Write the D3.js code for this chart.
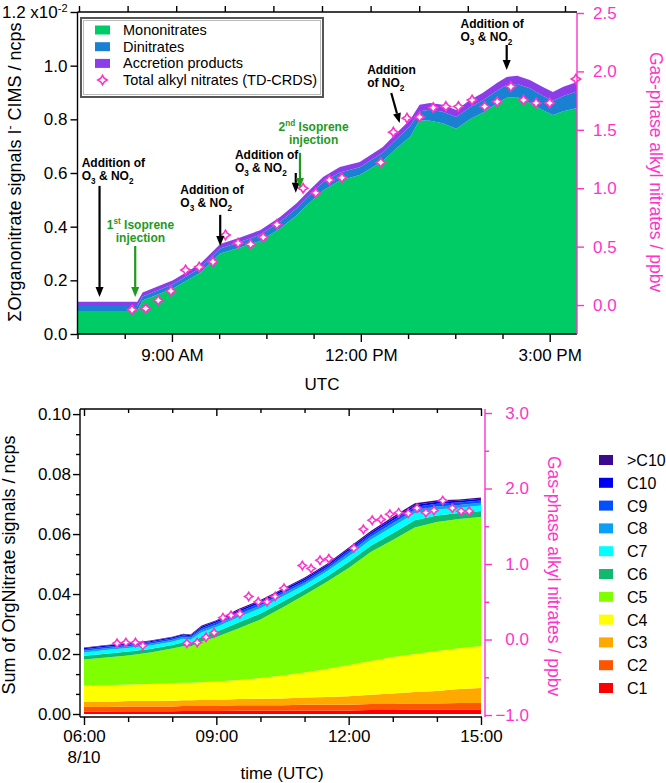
<!DOCTYPE html>
<html>
<head>
<meta charset="utf-8">
<script src="https://cdn.jsdelivr.net/npm/d3@7"></script>
<style>
body { margin: 0; background: #fff; }
</style>
</head>
<body>
<div id="chart"></div>
<script>
const [WIDTH, HEIGHT] = [666, 783]
const FONT = 'Arial, "Liberation Sans", sans-serif'
const MAGENTA = '#ff33cc'
const GREEN_TXT = '#1f9a1f'

// ---------- top panel data (signals in 1e-2 ncps) ----------
const topTimes = ['07:30','08:27','08:32','09:01','09:27','09:46','10:05','10:24','10:43','10:59','11:08',
    '11:24','11:40','11:59','12:21','12:34','12:47','12:56','13:06','13:18','13:31','13:44','13:56',
    '14:10','14:19','14:29','14:41','14:53','15:03','15:13','15:26']
const mononitrates = [0.086, 0.086, 0.125, 0.17, 0.228, 0.30, 0.322, 0.347, 0.393, 0.443, 0.478,
    0.535, 0.572, 0.593, 0.645, 0.692, 0.735, 0.797, 0.795, 0.785, 0.765, 0.80, 0.825,
    0.86, 0.88, 0.883, 0.861, 0.835, 0.816, 0.83, 0.842]
const dinitrates = [0.018, 0.018, 0.015, 0.015, 0.018, 0.019, 0.021, 0.023, 0.025, 0.027, 0.028,
    0.031, 0.030, 0.028, 0.031, 0.035, 0.040, 0.033, 0.041, 0.043, 0.044, 0.045, 0.045,
    0.047, 0.048, 0.049, 0.055, 0.054, 0.053, 0.057, 0.062]
const accretion = [0.016, 0.016, 0.015, 0.015, 0.016, 0.016, 0.017, 0.017, 0.018, 0.018, 0.019,
    0.019, 0.020, 0.020, 0.021, 0.022, 0.023, 0.024, 0.025, 0.026, 0.026, 0.027, 0.028,
    0.029, 0.030, 0.030, 0.031, 0.032, 0.033, 0.034, 0.035]
const topNames = ['Mononitrates', 'Dinitrates', 'Accretion products']
const topColors = ['#00cc66', '#1a80d2', '#8a3de8']

// TD-CRDS total alkyl nitrates, ppbv
const tdTimesTop = ['08:22','08:35','08:47','08:59','09:13','09:26','09:39','09:51','10:03','10:15','10:27',
    '10:40','11:05','11:17','11:30','11:42','12:19','12:31','12:44','12:56','13:09','13:21','13:33',
    '13:46','13:58','14:10','14:23','14:35','14:47','15:00','15:25']
const tdTop = [-0.04, -0.03, 0.04, 0.12, 0.30, 0.325, 0.37, 0.60, 0.53, 0.52, 0.58,
    0.69, 1.00, 0.96, 1.07, 1.09, 1.22, 1.48, 1.60, 1.61, 1.69, 1.70, 1.70,
    1.755, 1.70, 1.74, 1.87, 1.755, 1.73, 1.73, 1.935]

const topTickMajor = ['09:00', '12:00', '15:00']
const topTickLabels = ['9:00 AM', '12:00 PM', '3:00 PM']
const topTickMinor = ['07:30', '08:15', '09:45', '10:30', '11:15', '12:45', '13:30', '14:15']
const topTickMirror = ['07:30', '08:15', '09:00', '09:45', '10:30', '11:15', '12:00', '12:45', '13:30', '14:15', '15:00']
const topYTicks = [0, 0.2, 0.4, 0.6, 0.8, 1.0, 1.2]
const topRTicks = [0, 0.5, 1.0, 1.5, 2.0, 2.5]

// annotations: text anchor (time, value), arrow from/to (time, value)
const annotations = [
    { lines: ['Addition of', 'O{_3} & NO{_2}'], color: '#000', anchor: 'start', at: ['07:34', 0.622], from: ['07:51', 0.552], to: ['07:51', 0.138] },
    { lines: ['1{^st} Isoprene', 'injection'], color: GREEN_TXT, anchor: 'middle', at: ['08:30', 0.391], from: ['08:25', 0.328], to: ['08:25', 0.138] },
    { lines: ['Addition of', 'O{_3} & NO{_2}'], color: '#000', anchor: 'start', at: ['09:08', 0.522], from: ['09:46', 0.444], to: ['09:46', 0.328] },
    { lines: ['Addition of', 'O{_3} & NO{_2}'], color: '#000', anchor: 'start', at: ['10:00', 0.652], from: ['10:58', 0.60], to: ['10:58', 0.526] },
    { lines: ['2{^nd} Isoprene', 'injection'], color: GREEN_TXT, anchor: 'middle', at: ['11:15', 0.757], from: ['11:02', 0.675], to: ['11:02', 0.544] },
    { lines: ['Addition', 'of NO{_2}'], color: '#000', anchor: 'start', at: ['12:06', 0.969], from: ['12:29', 0.898], to: ['12:37', 0.786] },
    { lines: ['Addition of', 'O{_3} & NO{_2}'], color: '#000', anchor: 'start', at: ['13:35', 1.14], from: ['14:19', 1.077], to: ['14:19', 0.984] },
]

// ---------- bottom panel data (ncps) ----------
const btmTimes = ['06:00','06:30','07:00','07:30','08:00','08:15','08:25','08:40','09:00','09:30','10:00',
    '10:30','11:00','11:30','12:00','12:30','13:00','13:30','14:00','14:30','15:00']
const c1 = [0.0008, 0.0008, 0.0009, 0.0009, 0.0009, 0.0010, 0.0010, 0.0010, 0.0010, 0.0011, 0.0011,
    0.0011, 0.0012, 0.0012, 0.0012, 0.0013, 0.0013, 0.0014, 0.0014, 0.0015, 0.0015]
const c2 = [0.0015, 0.0015, 0.0016, 0.0016, 0.0016, 0.0017, 0.0017, 0.0017, 0.0017, 0.0018, 0.0018,
    0.0018, 0.0019, 0.0019, 0.0019, 0.0020, 0.0020, 0.0021, 0.0021, 0.0022, 0.0022]
const c3 = [0.0017, 0.0017, 0.0018, 0.0018, 0.0019, 0.0019, 0.0019, 0.0020, 0.0020, 0.0021, 0.0022,
    0.0023, 0.0024, 0.0026, 0.0028, 0.0031, 0.0035, 0.0038, 0.0042, 0.0046, 0.0050]
const c4 = [0.0055, 0.0056, 0.0055, 0.0057, 0.0059, 0.0058, 0.0058, 0.0059, 0.0061, 0.0063, 0.0069,
    0.0076, 0.0083, 0.0093, 0.0104, 0.0113, 0.0122, 0.0127, 0.0133, 0.0136, 0.0140]
const c5 = [0.0087, 0.0092, 0.0097, 0.0105, 0.0115, 0.0122, 0.0121, 0.0136, 0.0149, 0.0172, 0.0195,
    0.0227, 0.0259, 0.0290, 0.0324, 0.0363, 0.0390, 0.0422, 0.0430, 0.0431, 0.0430]
const c6 = [0.0012, 0.0013, 0.0013, 0.0012, 0.0012, 0.0013, 0.0012, 0.0016, 0.0017, 0.0020, 0.0020,
    0.0019, 0.0017, 0.0018, 0.0020, 0.0021, 0.0023, 0.0024, 0.0022, 0.0020, 0.0020]
const c7 = [0.0011, 0.0012, 0.0012, 0.0011, 0.0011, 0.0012, 0.0011, 0.0015, 0.0016, 0.0018, 0.0018,
    0.0018, 0.0016, 0.0017, 0.0019, 0.0020, 0.0022, 0.0023, 0.0020, 0.0018, 0.0018]
const c8 = [0.0006, 0.0006, 0.0006, 0.0006, 0.0006, 0.0006, 0.0006, 0.0007, 0.0008, 0.0009, 0.0009,
    0.0009, 0.0008, 0.0008, 0.0010, 0.0010, 0.0011, 0.0011, 0.0010, 0.0009, 0.0009]
const c9 = [0.0005, 0.0005, 0.0005, 0.0005, 0.0005, 0.0005, 0.0005, 0.0006, 0.0007, 0.0008, 0.0008,
    0.0007, 0.0007, 0.0007, 0.0008, 0.0008, 0.0009, 0.0010, 0.0009, 0.0008, 0.0008]
const c10 = [0.0004, 0.0004, 0.0004, 0.0004, 0.0004, 0.0004, 0.0004, 0.0005, 0.0005, 0.0006, 0.0006,
    0.0006, 0.0006, 0.0006, 0.0006, 0.0006, 0.0007, 0.0007, 0.0007, 0.0006, 0.0006]
const cOver10 = [0.0002, 0.0002, 0.0002, 0.0002, 0.0002, 0.0002, 0.0002, 0.0004, 0.0003, 0.0004, 0.0004,
    0.0004, 0.0004, 0.0004, 0.0005, 0.0005, 0.0006, 0.0006, 0.0005, 0.0004, 0.0004]
const carbonKeys = ['C1', 'C2', 'C3', 'C4', 'C5', 'C6', 'C7', 'C8', 'C9', 'C10', '>C10']
const carbonSeries = [c1, c2, c3, c4, c5, c6, c7, c8, c9, c10, cOver10]
const carbonColors = ['#ff0000', '#ff5500', '#ffa800', '#ffff00', '#80ff00', '#10b96e',
    '#00ffff', '#0aa0f5', '#0050ff', '#0000f0', '#3c0a8f']

const tdTimesBtm = ['06:45','06:57','07:10','07:20','08:20','08:34','08:46','08:57','09:09','09:20','09:32',
    '09:44','09:57','10:09','10:20','10:32','10:57','11:09','11:21','11:33','12:07','12:20','12:32',
    '12:44','12:56','13:08','13:21','13:33','13:45','13:56','14:08','14:21','14:33','14:44']
const tdBtm = [-0.05, -0.04, -0.04, -0.08, -0.05, -0.04, 0.03, 0.09, 0.29, 0.32, 0.34,
    0.57, 0.50, 0.50, 0.57, 0.68, 0.98, 0.94, 1.05, 1.07, 1.21, 1.46, 1.58,
    1.59, 1.66, 1.68, 1.67, 1.74, 1.68, 1.71, 1.84, 1.74, 1.70, 1.70]

const btmTickMajor = ['06:00', '09:00', '12:00', '15:00']
const btmTickMinor = ['07:00', '08:00', '10:00', '11:00', '13:00', '14:00']
const btmYTicks = [0, 0.02, 0.04, 0.06, 0.08, 0.10]
const btmYMinor = [0.0067, 0.0133, 0.0267, 0.0333, 0.0467, 0.0533, 0.0667, 0.0733, 0.0867, 0.0933]
const btmRTicks = [-1, 0, 1, 2, 3]
const btmRMinor = [-0.5, 0.5, 1.5, 2.5]

const parse = d3.timeParse('%H:%M')

const svg = d3.select('#chart').append('svg')
    .attr('width', WIDTH)
    .attr('height', HEIGHT)
    .attr('viewBox', [0, 0, WIDTH, HEIGHT])
    .attr('font-family', FONT)

// custom concave diamond marker (Igor style)
const starDiamond = {
    draw(ctx, size) {
        const r = Math.sqrt(size) / 2, k = r * 0.38
        ctx.moveTo(0, -r); ctx.lineTo(k, -k); ctx.lineTo(r, 0); ctx.lineTo(k, k)
        ctx.lineTo(0, r); ctx.lineTo(-k, k); ctx.lineTo(-r, 0); ctx.lineTo(-k, -k)
        ctx.closePath()
    }
}

// text with {_sub} and {^sup} pieces
function richText(sel, str, size) {
    const parts = str.split(/(\{[_^][^}]*\})/).filter(s => s)
    let shift = 0
    parts.forEach(p => {
        const m = p.match(/^\{([_^])(.*)\}$/)
        if (m) {
            const dy = m[1] === '_' ? size * 0.3 : -size * 0.42
            sel.append('tspan').attr('dy', dy - shift).attr('font-size', size * 0.68).text(m[2])
            shift = dy
        } else {
            sel.append('tspan').attr('dy', -shift).text(p)
            shift = 0
        }
    })
}

function styleAxis(a, color, size) {
    a.attr('font-family', FONT).attr('font-size', size)
    a.selectAll('.tick line').attr('stroke', color).attr('stroke-width', 1.4)
    a.selectAll('.tick text').attr('fill', color)
    a.select('.domain').remove()
}

function arrow(g, x1, y1, x2, y2, color) {
    const ang = Math.atan2(y2 - y1, x2 - x1)
    const hl = 10, hw = 4
    const bx = x2 - hl * Math.cos(ang), by = y2 - hl * Math.sin(ang)
    g.append('line').attr('x1', x1).attr('y1', y1).attr('x2', bx).attr('y2', by)
        .attr('stroke', color).attr('stroke-width', 2.2)
    const px = -Math.sin(ang) * hw, py = Math.cos(ang) * hw
    g.append('path')
        .attr('d', `M${x2},${y2}L${bx + px},${by + py}L${bx - px},${by - py}Z`)
        .attr('fill', color)
}

function drawTop() {
    const g = svg.append('g')
    const x = d3.scaleTime([parse('07:30'), parse('15:26')], [77.5, 577])
    const xMirror = d3.scaleTime([parse('07:30'), parse('15:00')], [79, 565])
    const y = d3.scaleLinear([0, 1.2], [334, 12])
    const yR = d3.scaleLinear([-0.248, 2.5], [334, 13])

    const rows = topTimes.map((t, i) => ({ t: parse(t), mono: mononitrates[i], di: dinitrates[i], acc: accretion[i] }))
    const series = d3.stack().keys(['mono', 'di', 'acc'])(rows)
    const area = d3.area().x(d => x(d.data.t)).y0(d => y(d[0])).y1(d => y(d[1]))
    g.append('g').selectAll('path').data(series).join('path')
        .attr('fill', (d, i) => topColors[i])
        .attr('d', area)

    // TD-CRDS markers
    g.append('g').selectAll('path').data(tdTimesTop.map((t, i) => ({ t: parse(t), v: tdTop[i] }))).join('path')
        .attr('transform', d => `translate(${x(d.t)},${yR(d.v)})`)
        .attr('d', d3.symbol(starDiamond, 90))
        .attr('fill', '#fff').attr('stroke', MAGENTA).attr('stroke-width', 1.6)

    // frame lines
    g.append('line').attr('x1', x.range()[0]).attr('x2', x.range()[1]).attr('y1', 334).attr('y2', 334).attr('stroke', '#000').attr('stroke-width', 1.4)
    g.append('line').attr('x1', x.range()[0]).attr('x2', x.range()[1]).attr('y1', 12).attr('y2', 12).attr('stroke', '#000').attr('stroke-width', 1.4)
    g.append('line').attr('x1', 77.5).attr('x2', 77.5).attr('y1', 12).attr('y2', 334).attr('stroke', '#000').attr('stroke-width', 1.4)
    g.append('line').attr('x1', 577).attr('x2', 577).attr('y1', 13).attr('y2', 334).attr('stroke', MAGENTA).attr('stroke-width', 1.4)

    // bottom time axis
    g.append('g').attr('transform', 'translate(0,334)')
        .call(d3.axisBottom(x).tickValues(topTickMajor.map(parse)).tickSize(8).tickPadding(7)
            .tickFormat((d, i) => topTickLabels[i]))
        .call(a => styleAxis(a, '#000', 17))
    g.append('g').attr('transform', 'translate(0,334)')
        .call(d3.axisBottom(x).tickValues(topTickMinor.map(parse)).tickSize(5).tickFormat(''))
        .call(a => styleAxis(a, '#000', 17))
    g.append('g').attr('transform', 'translate(0,12)')
        .call(d3.axisTop(xMirror).tickValues(topTickMirror.map(parse)).tickSize(6).tickFormat(''))
        .call(a => styleAxis(a, '#000', 17))
    g.append('text').attr('x', 322).attr('y', 390).attr('text-anchor', 'middle')
        .attr('font-size', 17).text('UTC')

    // left axis
    const yAx = g.append('g').attr('transform', 'translate(77.5,0)')
        .call(d3.axisLeft(y).tickValues(topYTicks).tickSize(7).tickPadding(3).tickFormat(d3.format('.1f')))
        .call(a => styleAxis(a, '#000', 17))
    yAx.selectAll('.tick text').filter(d => d === 1.2).each(function () {
        const t = d3.select(this).text('')
        t.append('tspan').text('1.2 x10')
        t.append('tspan').attr('dy', '-0.55em').attr('font-size', 11).text('-2')
    })
    const yl = g.append('text').attr('transform', 'translate(21,172) rotate(-90)')
        .attr('text-anchor', 'middle').attr('font-size', 18)
    yl.append('tspan').text('ΣOrganonitrate signals I')
    yl.append('tspan').attr('dy', -7).attr('font-size', 12).text('-')
    yl.append('tspan').attr('dy', 7).text(' CIMS / ncps')

    // right axis
    g.append('g').attr('transform', 'translate(577,0)')
        .call(d3.axisRight(yR).tickValues(topRTicks).tickSize(7).tickPadding(9).tickFormat(d3.format('.1f')))
        .call(a => styleAxis(a, MAGENTA, 17))
    g.append('text').attr('transform', 'translate(650,172) rotate(90)')
        .attr('text-anchor', 'middle').attr('font-size', 17.5).attr('fill', MAGENTA)
        .text('Gas-phase alkyl nitrates / ppbv')

    // annotations
    const ann = g.append('g').attr('font-weight', 'bold').attr('font-size', 12)
    annotations.forEach(a => {
        const tx = x(parse(a.at[0])), ty = y(a.at[1])
        a.lines.forEach((line, i) => {
            const t = ann.append('text').attr('x', tx).attr('y', ty + i * 13)
                .attr('text-anchor', a.anchor).attr('fill', a.color)
            richText(t, line, 12)
        })
        arrow(ann, x(parse(a.from[0])), y(a.from[1]), x(parse(a.to[0])), y(a.to[1]), a.color)
    })

    // legend
    const leg = g.append('g').attr('font-size', 14.5)
    leg.append('rect').attr('x', 81).attr('y', 18).attr('width', 242).attr('height', 79)
        .attr('fill', '#fff').attr('stroke', '#555').attr('stroke-width', 2)
    leg.append('rect').attr('x', 83.5).attr('y', 20.5).attr('width', 237).attr('height', 74)
        .attr('fill', 'none').attr('stroke', '#bbb').attr('stroke-width', 1)
    topNames.forEach((name, i) => {
        const cy = 30 + i * 16.7
        leg.append('rect').attr('x', 95).attr('y', cy - 4.5).attr('width', 15).attr('height', 9).attr('fill', topColors[i])
        leg.append('text').attr('x', 123).attr('y', cy + 5).text(name)
    })
    const cyT = 30 + 3 * 16.7
    leg.append('path').attr('transform', `translate(102.5,${cyT})`)
        .attr('d', d3.symbol(starDiamond, 90))
        .attr('fill', '#fff').attr('stroke', MAGENTA).attr('stroke-width', 1.6)
    leg.append('text').attr('x', 123).attr('y', cyT + 5).text('Total alkyl nitrates (TD-CRDS)')
}

function drawBottom() {
    const g = svg.append('g')
    const x = d3.scaleTime([parse('06:00'), parse('15:00')], [84, 481])
    const y = d3.scaleLinear([-0.001, 0.1017], [717, 409])
    const yR = d3.scaleLinear([-1.026, 3.053], [717, 409])

    const rows = btmTimes.map((t, i) => {
        const r = { t: parse(t) }
        carbonKeys.forEach((k, j) => { r[k] = carbonSeries[j][i] })
        return r
    })
    const series = d3.stack().keys(carbonKeys)(rows)
    const area = d3.area().x(d => x(d.data.t)).y0(d => y(d[0])).y1(d => y(d[1]))
    g.append('g').selectAll('path').data(series).join('path')
        .attr('fill', (d, i) => carbonColors[i])
        .attr('d', area)

    g.append('g').selectAll('path').data(tdTimesBtm.map((t, i) => ({ t: parse(t), v: tdBtm[i] }))).join('path')
        .attr('transform', d => `translate(${x(d.t)},${yR(d.v)})`)
        .attr('d', d3.symbol(starDiamond, 72))
        .attr('fill', '#fff').attr('stroke', MAGENTA).attr('stroke-width', 1.5)

    // frame
    g.append('line').attr('x1', 80).attr('x2', 482).attr('y1', 717).attr('y2', 717).attr('stroke', '#000').attr('stroke-width', 1.4)
    g.append('line').attr('x1', 80).attr('x2', 482).attr('y1', 409).attr('y2', 409).attr('stroke', '#000').attr('stroke-width', 1.4)
    g.append('line').attr('x1', 80).attr('x2', 80).attr('y1', 409).attr('y2', 717).attr('stroke', '#000').attr('stroke-width', 1.4)
    g.append('line').attr('x1', 485).attr('x2', 485).attr('y1', 409).attr('y2', 717).attr('stroke', MAGENTA).attr('stroke-width', 1.4)

    // time axis
    g.append('g').attr('transform', 'translate(0,717)')
        .call(d3.axisBottom(x).tickValues(btmTickMajor.map(parse)).tickSize(8).tickPadding(5)
            .tickFormat(d3.timeFormat('%H:%M')))
        .call(a => styleAxis(a, '#000', 17))
    g.append('g').attr('transform', 'translate(0,717)')
        .call(d3.axisBottom(x).tickValues(btmTickMinor.map(parse)).tickSize(5).tickFormat(''))
        .call(a => styleAxis(a, '#000', 17))
    g.append('g').attr('transform', 'translate(0,409)')
        .call(d3.axisBottom(x).tickValues(btmTickMajor.map(parse)).tickSize(7).tickFormat(''))
        .call(a => styleAxis(a, '#000', 17))
    g.append('g').attr('transform', 'translate(0,409)')
        .call(d3.axisBottom(x).tickValues(btmTickMinor.map(parse)).tickSize(4).tickFormat(''))
        .call(a => styleAxis(a, '#000', 17))
    g.append('text').attr('x', x(parse('06:00'))).attr('y', 763).attr('text-anchor', 'middle')
        .attr('font-size', 17).text('8/10')
    g.append('text').attr('x', 282).attr('y', 779).attr('text-anchor', 'middle')
        .attr('font-size', 17).text('time (UTC)')

    // left axis
    g.append('g').attr('transform', 'translate(80,0)')
        .call(d3.axisLeft(y).tickValues(btmYTicks).tickSize(7).tickPadding(2).tickFormat(d3.format('.2f')))
        .call(a => styleAxis(a, '#000', 17))
    g.append('g').attr('transform', 'translate(80,0)')
        .call(d3.axisLeft(y).tickValues(btmYMinor).tickSize(4).tickFormat(''))
        .call(a => styleAxis(a, '#000', 17))
    g.append('text').attr('transform', 'translate(15,565) rotate(-90)')
        .attr('text-anchor', 'middle').attr('font-size', 18)
        .text('Sum of OrgNitrate signals / ncps')

    // right axis
    const rAx = g.append('g').attr('transform', 'translate(485,0)')
        .call(d3.axisRight(yR).tickValues(btmRTicks).tickSize(7).tickFormat(d3.format('.1f')))
        .call(a => styleAxis(a, MAGENTA, 17))
    rAx.selectAll('.tick text').attr('text-anchor', 'end').attr('x', 44)
    g.append('g').attr('transform', 'translate(485,0)')
        .call(d3.axisRight(yR).tickValues(btmRMinor).tickSize(4).tickFormat(''))
        .call(a => styleAxis(a, MAGENTA, 17))
    g.append('text').attr('transform', 'translate(548,576) rotate(90)')
        .attr('text-anchor', 'middle').attr('font-size', 17.5).attr('fill', MAGENTA)
        .text('Gas-phase alkyl nitrates / ppbv')

    // legend, top entry is >C10
    const leg = g.append('g').attr('font-size', 16)
    carbonKeys.slice().reverse().forEach((k, i) => {
        const cy = 460 + i * 22.8
        const ci = carbonKeys.indexOf(k)
        leg.append('rect').attr('x', 599).attr('y', cy - 5).attr('width', 14).attr('height', 10).attr('fill', carbonColors[ci])
        leg.append('text').attr('x', 627).attr('y', cy + 6).text(k)
    })
}

drawTop()
drawBottom()
</script>
</body>
</html>
